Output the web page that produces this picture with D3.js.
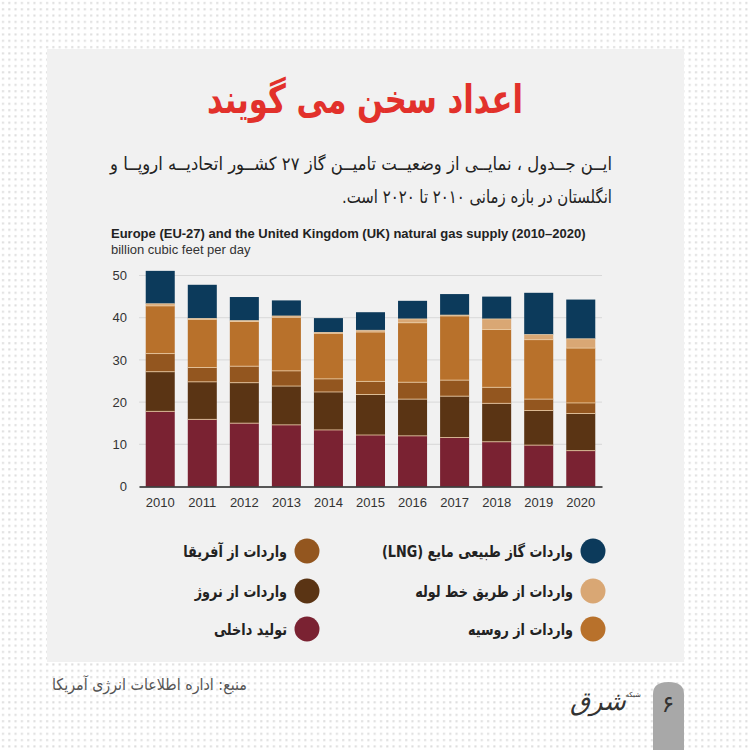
<!DOCTYPE html>
<html><head><meta charset="utf-8">
<script src="https://cdn.jsdelivr.net/npm/d3@7"></script>
<style>
html,body{margin:0;padding:0;background:#fff;}
svg{display:block;}
</style></head>
<body>
<svg id="c" width="750" height="750"></svg>
<script>
const years = ["2010","2011","2012","2013","2014","2015","2016","2017","2018","2019","2020"];
const domestic = [17.8,15.9,15.0,14.6,13.4,12.2,12.0,11.6,10.6,9.8,8.5];
const norway   = [9.4,8.9,9.6,9.2,9.0,9.6,8.7,9.8,9.1,8.2,8.8];
const africa   = [4.3,3.4,3.9,3.6,3.1,3.1,4.0,3.8,3.8,2.7,2.5];
const russia   = [11.3,11.4,10.6,12.7,10.8,11.7,14.1,15.2,13.7,14.1,13.0];
const pipeline = [0.5,0.2,0.2,0.3,0.2,0.4,0.9,0.2,2.5,1.2,2.2];
const lng      = [7.8,8.0,5.6,3.7,3.4,4.3,4.3,5.0,5.3,9.9,9.3];
const yTicks = [0,10,20,30,40,50];
const seriesKeys = ["domestic","norway","africa","russia","pipeline","lng"];
const seriesLabels = {
  lng:"واردات گاز طبیعی مایع (LNG)",
  pipeline:"واردات از طریق خط لوله",
  russia:"واردات از روسیه",
  africa:"واردات از آفریقا",
  norway:"واردات از نروژ",
  domestic:"تولید داخلی"
};
const colors = {
  domestic:"#7a2232", norway:"#5a3414", africa:"#93561f",
  russia:"#b8712b", pipeline:"#d9a774", lng:"#0c3a5b"
};
const titleText = "اعداد سخن می گویند";
const subLine1 = "ایــن جــدول ، نمایــی از وضعیــت تامیــن گاز ۲۷ کشــور اتحادیــه اروپــا و";
const subLine2 = "انگلستان در بازه زمانی ۲۰۱۰ تا ۲۰۲۰ است.";
const chartTitle = "Europe (EU-27) and the United Kingdom (UK) natural gas supply (2010–2020)";
const chartUnit = "billion cubic feet per day";
const sourceText = "منبع: اداره اطلاعات انرژی آمریکا";

const table = years.map((y,i)=>({year:y, domestic:domestic[i], norway:norway[i], africa:africa[i], russia:russia[i], pipeline:pipeline[i], lng:lng[i]}));

const svg = d3.select("#c");
const defs = svg.append("defs");
const pat = defs.append("pattern").attr("id","dots").attr("width",6.3).attr("height",6.3).attr("patternUnits","userSpaceOnUse");
pat.append("rect").attr("width",6.3).attr("height",6.3).attr("fill","#ffffff");
pat.append("rect").attr("x",2).attr("y",2).attr("width",2).attr("height",2).attr("fill","#dcdcdc");
svg.append("rect").attr("width",750).attr("height",750).attr("fill","url(#dots)");
svg.append("rect").attr("x",47).attr("y",49).attr("width",637).attr("height",613).attr("fill","#f1f1f1");

const fa = "'DejaVu Sans', sans-serif";
const en = "'Liberation Sans', Arial, sans-serif";

// title
svg.append("text").attr("x",365).attr("y",113).attr("text-anchor","middle")
  .attr("font-family",fa).attr("font-weight","bold").attr("font-size",40)
  .attr("fill","#e2312b").attr("textLength",316).attr("lengthAdjust","spacingAndGlyphs")
  .text(titleText);

svg.append("text").attr("x",612).attr("y",170).attr("direction","rtl").attr("text-anchor","start")
  .attr("font-family",fa).attr("font-size",18).attr("fill","#222")
  .attr("textLength",502).attr("lengthAdjust","spacingAndGlyphs").text(subLine1);
svg.append("text").attr("x",612).attr("y",203).attr("direction","rtl").attr("text-anchor","start")
  .attr("font-family",fa).attr("font-size",18).attr("fill","#222")
  .attr("textLength",270).attr("lengthAdjust","spacingAndGlyphs").text(subLine2);

svg.append("text").attr("x",111).attr("y",238).attr("font-family",en).attr("font-weight","bold")
  .attr("font-size",13).attr("fill","#222").text(chartTitle);
svg.append("text").attr("x",111).attr("y",254).attr("font-family",en)
  .attr("font-size",13).attr("fill","#333").text(chartUnit);

// scales
const x = d3.scaleBand().domain(years).range([139,602]).paddingInner(0.31).paddingOuter(0.16);
const y = d3.scaleLinear().domain([0,50]).range([486.5,275.5]);

// grid
const grid = svg.append("g");
grid.selectAll("line").data(yTicks.filter(t=>t>0)).join("line")
  .attr("x1",139).attr("x2",602).attr("y1",d=>y(d)).attr("y2",d=>y(d))
  .attr("stroke","#d8d8d8").attr("stroke-width",1);

const stack = d3.stack().keys(seriesKeys)(table);
const bars = svg.append("g");
stack.forEach(layer=>{
  bars.append("g").attr("fill",colors[layer.key]).selectAll("rect").data(layer).join("rect")
    .attr("x",d=>x(d.data.year)).attr("width",x.bandwidth())
    .attr("y",d=>y(d[1])).attr("height",d=>y(d[0])-y(d[1]));
});
// separators between segments
const sep = svg.append("g");
stack.slice(0,-1).forEach(layer=>{
  sep.selectAll(null).data(layer).join("line")
    .attr("x1",d=>x(d.data.year)).attr("x2",d=>x(d.data.year)+x.bandwidth())
    .attr("y1",d=>y(d[1])).attr("y2",d=>y(d[1]))
    .attr("stroke","#eccda6").attr("stroke-width",0.9).attr("opacity",0.9);
});

// axes
const yAxis = svg.append("g").attr("transform","translate(139,0)")
  .call(d3.axisLeft(y).tickValues(yTicks).tickSize(0).tickPadding(12));
yAxis.select(".domain").remove();
yAxis.selectAll("text").attr("font-family",en).attr("font-size",13).attr("fill","#333");

const xAxis = svg.append("g").attr("transform","translate(0,486.5)")
  .call(d3.axisBottom(x).tickSize(0).tickPadding(11));
xAxis.select(".domain").attr("stroke","#222").attr("stroke-width",1.5);
xAxis.selectAll("text").attr("font-family",en).attr("font-size",13).attr("fill","#333");

// legend
const legendRight = ["lng","pipeline","russia"];
const legendLeft = ["africa","norway","domestic"];
const rowY = [551,591,629];
function legendCol(keys, cx){
  const g = svg.append("g");
  keys.forEach((k,i)=>{
    g.append("circle").attr("cx",cx).attr("cy",rowY[i]).attr("r",12.5).attr("fill",colors[k]);
    const t = g.append("text").attr("x",cx-20).attr("y",rowY[i]+6).attr("direction","rtl").attr("text-anchor","start")
      .attr("font-family",fa).attr("font-weight","bold").attr("font-size",16).attr("fill","#222")
      .text(seriesLabels[k]);
    const w = t.node().getComputedTextLength();
    t.attr("textLength", w*0.8).attr("lengthAdjust","spacingAndGlyphs");
  });
}
legendCol(legendRight, 593);
legendCol(legendLeft, 307);

// footer
svg.append("text").attr("x",247).attr("y",690).attr("direction","rtl").attr("text-anchor","start")
  .attr("font-family",fa).attr("font-size",16).attr("fill","#555")
  .attr("textLength",195).attr("lengthAdjust","spacingAndGlyphs").text(sourceText);

svg.append("path").attr("d","M653,750 L653,694 Q653,682 668.5,682 Q684,682 684,694 L684,750 Z").attr("fill","#a8a8a8");
svg.append("text").attr("x",668).attr("y",712).attr("text-anchor","middle")
  .attr("font-family",fa).attr("font-size",24).attr("fill","#333").text("۶");
svg.append("text").attr("x",626).attr("y",710).attr("direction","rtl").attr("text-anchor","start")
  .attr("font-family","'DejaVu Serif', serif").attr("font-style","italic").attr("font-size",26).attr("fill","#333")
  .text("شرق");
svg.append("text").attr("x",641).attr("y",697).attr("direction","rtl").attr("text-anchor","start")
  .attr("font-family",fa).attr("font-size",7).attr("fill","#333").text("شبکه");
</script>
</body></html>
